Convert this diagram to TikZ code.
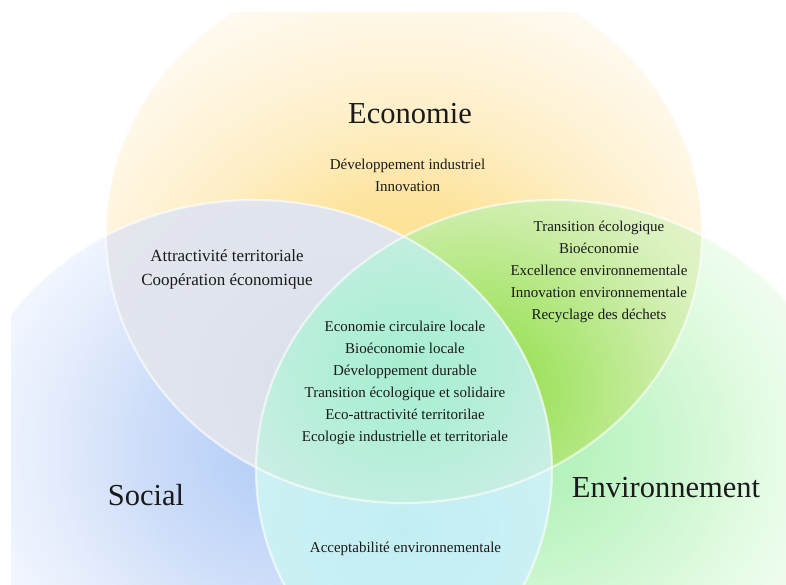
\documentclass[tikz,border=0pt]{standalone}
\usepackage{fontspec}
\setmainfont{Liberation Serif}
% yellow
\definecolor{yA}{HTML}{FCDC82}\definecolor{yB}{HTML}{FDE49E}\definecolor{yC}{HTML}{FEEFC8}
\definecolor{yD}{HTML}{FFF8E8}\definecolor{yE}{HTML}{FFFBF2}
% blue
\definecolor{bA}{HTML}{B6CEF7}\definecolor{bB}{HTML}{BCD3F8}\definecolor{bC}{HTML}{D0DFF9}
\definecolor{bD}{HTML}{E4ECFC}\definecolor{bE}{HTML}{F0F5FE}\definecolor{bF}{HTML}{F6F9FE}
% green
\definecolor{gA}{HTML}{B0F0B6}\definecolor{gB}{HTML}{B8F3BE}\definecolor{gC}{HTML}{CEF7D1}
\definecolor{gD}{HTML}{E2FBE2}\definecolor{gE}{HTML}{EFFDEF}\definecolor{gF}{HTML}{F6FEF6}
% lime
\definecolor{lA}{HTML}{96DF52}\definecolor{lB}{HTML}{A0E260}\definecolor{lC}{HTML}{B4E882}
\definecolor{lD}{HTML}{CBEDA6}\definecolor{lE}{HTML}{DDF2C2}\definecolor{lF}{HTML}{E8F6D6}
% grey
\definecolor{rA}{HTML}{DADFEB}\definecolor{rB}{HTML}{E0E4ED}\definecolor{rC}{HTML}{E6E8EE}
% cyan
\definecolor{cA}{HTML}{C2EEF2}\definecolor{cB}{HTML}{CDF1F5}\definecolor{cC}{HTML}{DBF5F9}
% teal
\definecolor{tA}{HTML}{A8EED1}\definecolor{tB}{HTML}{B0EFD6}\definecolor{tC}{HTML}{C2EEE0}
\definecolor{tD}{HTML}{CEEEE6}\definecolor{tE}{HTML}{D2EFE8}
\definecolor{txt}{HTML}{1A1A1A}

\pgfdeclareradialshading{yelsh}{\pgfpoint{0bp}{0bp}}{color(0bp)=(yA); color(9bp)=(yB); color(15bp)=(yC); color(22bp)=(yD); color(25bp)=(yE); color(50bp)=(yE)}
\pgfdeclareradialshading{blush}{\pgfpoint{0bp}{0bp}}{color(0bp)=(bA); color(4bp)=(bB); color(10bp)=(bC); color(15bp)=(bD); color(19bp)=(bE); color(25bp)=(bF); color(50bp)=(bF)}
\pgfdeclareradialshading{grnsh}{\pgfpoint{0bp}{0bp}}{color(0bp)=(gA); color(4bp)=(gB); color(10bp)=(gC); color(15bp)=(gD); color(19bp)=(gE); color(25bp)=(gF); color(50bp)=(gF)}
\pgfdeclareradialshading{limsh}{\pgfpoint{0bp}{0bp}}{color(0bp)=(lA); color(4bp)=(lB); color(8bp)=(lC); color(12bp)=(lD); color(16bp)=(lE); color(25bp)=(lF); color(50bp)=(lF)}
\pgfdeclareradialshading{gresh}{\pgfpoint{0bp}{0bp}}{color(0bp)=(rA); color(10bp)=(rB); color(25bp)=(rC); color(50bp)=(rC)}
\pgfdeclareradialshading{cyash}{\pgfpoint{0bp}{0bp}}{color(0bp)=(cA); color(10bp)=(cB); color(25bp)=(cC); color(50bp)=(cC)}
\pgfdeclareradialshading{tealsh}{\pgfpoint{0bp}{0bp}}{color(0bp)=(tA); color(4bp)=(tB); color(9bp)=(tC); color(12bp)=(tD); color(25bp)=(tE); color(50bp)=(tE)}

\tikzset{
  big/.style={font=\fontsize{30.5}{36}\selectfont, text=txt, inner sep=0pt},
  itemtxt/.style={font=\fontsize{15}{22}\selectfont, align=center, text=txt, inner sep=0pt},
  itemleft/.style={font=\fontsize{17}{24}\selectfont, align=center, text=txt, inner sep=0pt},
  glow/.style={draw=white, opacity=0.6, line width=2.2pt},
}

\begin{document}
\begin{tikzpicture}[x=1pt,y=-1pt]
\useasboundingbox (0,0) rectangle (786,585);
\fill[white] (0,0) rectangle (786,585);
\begin{scope}
  \clip (11,13) rectangle (786,585);
  % Economie
  \begin{scope}
    \clip (404,233) ellipse [x radius=298pt, y radius=270pt];
    \shade[shading=yelsh] (404,330) ellipse [x radius=400pt, y radius=362pt];
  \end{scope}
  % Social
  \begin{scope}
    \clip (254,470) ellipse [x radius=298pt, y radius=270pt];
    \shade[shading=blush] (290,448) ellipse [x radius=400pt, y radius=362pt];
  \end{scope}
  % Environnement
  \begin{scope}
    \clip (554,470) ellipse [x radius=298pt, y radius=270pt];
    \shade[shading=grnsh] (518,448) ellipse [x radius=400pt, y radius=362pt];
  \end{scope}
  % Economie & Social
  \begin{scope}
    \clip (404,233) ellipse [x radius=298pt, y radius=270pt];
    \clip (254,470) ellipse [x radius=298pt, y radius=270pt];
    \shade[shading=gresh] (337,390) ellipse [x radius=400pt, y radius=362pt];
  \end{scope}
  % Economie & Environnement
  \begin{scope}
    \clip (404,233) ellipse [x radius=298pt, y radius=270pt];
    \clip (554,470) ellipse [x radius=298pt, y radius=270pt];
    \shade[shading=limsh] (471,390) ellipse [x radius=400pt, y radius=362pt];
  \end{scope}
  % Social & Environnement
  \begin{scope}
    \clip (254,470) ellipse [x radius=298pt, y radius=270pt];
    \clip (554,470) ellipse [x radius=298pt, y radius=270pt];
    \shade[shading=cyash] (405,530) ellipse [x radius=400pt, y radius=362pt];
  \end{scope}
  % all three
  \begin{scope}
    \clip (404,233) ellipse [x radius=298pt, y radius=270pt];
    \clip (254,470) ellipse [x radius=298pt, y radius=270pt];
    \clip (554,470) ellipse [x radius=298pt, y radius=270pt];
    \shade[shading=tealsh] (405,370) ellipse [x radius=400pt, y radius=362pt];
  \end{scope}
  % soft white boundaries
  \draw[glow] (404,233) ellipse [x radius=298pt, y radius=270pt];
  \draw[glow] (254,470) ellipse [x radius=298pt, y radius=270pt];
  \draw[glow] (554,470) ellipse [x radius=298pt, y radius=270pt];
\end{scope}

\node[big] (eco) at (410,114) {Economie};
\node[big] (soc) at (146,495) {Social};
\node[big] (env) at (666,488) {Environnement};

\node[itemtxt] (ecoitems) at (407.5,175) {Développement industriel\\Innovation};
\node[itemleft] (ecosoc) at (227,269) {Attractivité territoriale\\Coopération économique};
\node[itemtxt] (ecoenv) at (599,272) {Transition écologique\\Bioéconomie\\Excellence environnementale\\Innovation environnementale\\Recyclage des déchets};
\node[itemtxt] (centre) at (405,383) {Economie circulaire locale\\Bioéconomie locale\\Développement durable\\Transition écologique et solidaire\\Eco-attractivité territorilae\\Ecologie industrielle et territoriale};
\node[itemtxt] (socenv) at (405.5,549) {Acceptabilité environnementale};
\end{tikzpicture}
\end{document}
